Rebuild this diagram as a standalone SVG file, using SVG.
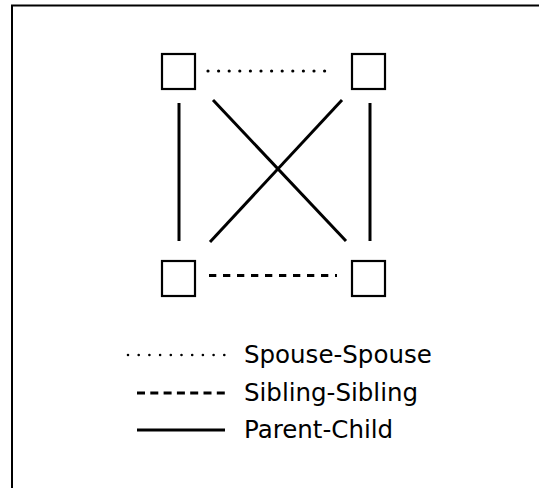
<svg xmlns="http://www.w3.org/2000/svg" width="539" height="488" viewBox="0 0 539 488">
<style>
.node rect{fill:#fff;stroke:#000;stroke-width:2.2}
.pc{stroke:#000;stroke-width:3;fill:none}
.sp{stroke:#000;stroke-width:3.2;stroke-linecap:round;stroke-dasharray:0 10.6;fill:none}
.sb{stroke:#000;stroke-width:3;stroke-dasharray:7.3 6.7;fill:none}
.lbl{font-family:"DejaVu Sans",sans-serif;font-size:24.5px;fill:#000}
</style>
<rect x="12" y="5.5" width="600" height="600" fill="#fff" stroke="#000" stroke-width="2"/>
<g id="connectors">
<line class="sp" x1="208" y1="71" x2="335" y2="71"/>
<line class="sb" x1="209" y1="275.5" x2="337" y2="275.5"/>
<line class="pc" x1="179" y1="103" x2="179" y2="241"/>
<line class="pc" x1="370" y1="103" x2="370" y2="241"/>
<line class="pc" x1="213" y1="100" x2="346" y2="241"/>
<line class="pc" x1="342" y1="100" x2="210" y2="242"/>
</g>
<g id="n1" class="node"><rect x="162" y="54" width="33" height="35"/></g>
<g id="n2" class="node"><rect x="352" y="54" width="33" height="35"/></g>
<g id="n3" class="node"><rect x="162" y="261" width="33" height="35"/></g>
<g id="n4" class="node"><rect x="352" y="261" width="33" height="35"/></g>
<g id="legend">
<line class="sp" x1="128" y1="355" x2="225" y2="355" style="stroke-width:2.6;stroke-dasharray:0 10.7"/>
<line class="sb" x1="137" y1="393" x2="225" y2="393" style="stroke-dasharray:8 5.3"/>
<line class="pc" x1="137" y1="430" x2="225" y2="430"/>
<text class="lbl" x="244" y="363">Spouse-Spouse</text>
<text class="lbl" x="244" y="401">Sibling-Sibling</text>
<text class="lbl" x="244" y="438">Parent-Child</text>
</g>
</svg>
